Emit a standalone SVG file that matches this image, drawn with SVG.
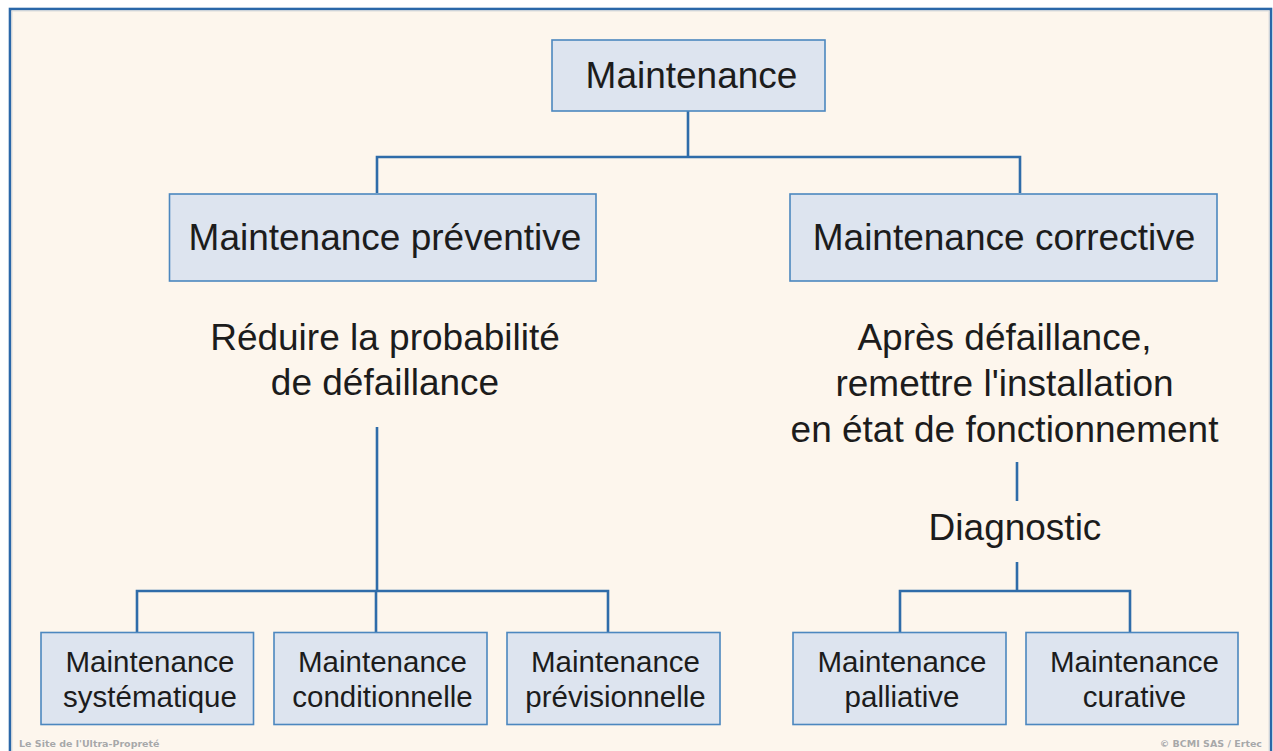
<svg xmlns="http://www.w3.org/2000/svg" width="1273" height="751" viewBox="0 0 1273 751">
<style>
.box{fill:#dde4ef;stroke:#4c87bf;stroke-width:1.6}
.t{font-family:"Liberation Sans",Arial,sans-serif;fill:#1c1c1c;text-anchor:middle}
.big{font-size:37px}
.sm{font-size:29.5px}
.lbl{font-size:37px}
.con{fill:none;stroke:#2f6ca9;stroke-width:2.6}
.foot{font-family:"DejaVu Sans",sans-serif;font-size:9.5px;font-weight:bold;fill:#a8a8a8;stroke:#ffffff;stroke-width:0.4;paint-order:stroke}
</style>
<rect x="0" y="0" width="1273" height="751" fill="#ffffff"/>
<rect x="10" y="9" width="1261" height="760" fill="#fdf6ed" stroke="#2a67a8" stroke-width="2.6"/>
<rect x="12" y="11" width="1257" height="760" fill="none" stroke="#dcdcdc" stroke-width="1"/>
<g id="connectors">
<path class="con" d="M688 111 V157 M377 193 V157 H1020 V193"/>
<path class="con" d="M377 427 V591 M137 632 V591 H608 V632 M376 591 V632"/>
<path class="con" d="M1017 462 V501 M1017 562 V591 M900 632 V591 H1130 V632"/>
</g>
<g id="n-maintenance"><rect class="box" x="552" y="40" width="273" height="71"/><text class="t big" x="691.5" y="88">Maintenance</text></g>
<g id="n-preventive"><rect class="box" x="169.5" y="194" width="426.5" height="87"/><text class="t big" x="385" y="250">Maintenance préventive</text></g>
<g id="n-corrective"><rect class="box" x="790" y="194" width="427" height="87"/><text class="t big" x="1004" y="250">Maintenance corrective</text></g>
<g id="n-reduire"><text class="t lbl" x="385" y="350">Réduire la probabilité</text><text class="t lbl" x="385" y="395">de défaillance</text></g>
<g id="n-apres"><text class="t lbl" x="1004.5" y="350">Après défaillance,</text><text class="t lbl" x="1004.5" y="396">remettre l'installation</text><text class="t lbl" x="1004.5" y="442">en état de fonctionnement</text></g>
<g id="n-diagnostic"><text class="t lbl" x="1015" y="540">Diagnostic</text></g>
<g id="n-systematique"><rect class="box" x="41" y="632.5" width="212.5" height="92"/><text class="t sm" x="150" y="672">Maintenance</text><text class="t sm" x="150" y="707">systématique</text></g>
<g id="n-conditionnelle"><rect class="box" x="274" y="632.5" width="213" height="92"/><text class="t sm" x="382.5" y="672">Maintenance</text><text class="t sm" x="382.5" y="707">conditionnelle</text></g>
<g id="n-previsionnelle"><rect class="box" x="507" y="632.5" width="213" height="92"/><text class="t sm" x="615.5" y="672">Maintenance</text><text class="t sm" x="615.5" y="707">prévisionnelle</text></g>
<g id="n-palliative"><rect class="box" x="793" y="632.5" width="213" height="92"/><text class="t sm" x="902" y="672">Maintenance</text><text class="t sm" x="902" y="707">palliative</text></g>
<g id="n-curative"><rect class="box" x="1026" y="632.5" width="212" height="92"/><text class="t sm" x="1134.5" y="672">Maintenance</text><text class="t sm" x="1134.5" y="707">curative</text></g>
<text class="foot" x="19" y="747">Le Site de l'Ultra-Propreté</text>
<text class="foot" x="1262" y="747" text-anchor="end">© BCMI SAS / Ertec</text>
</svg>
